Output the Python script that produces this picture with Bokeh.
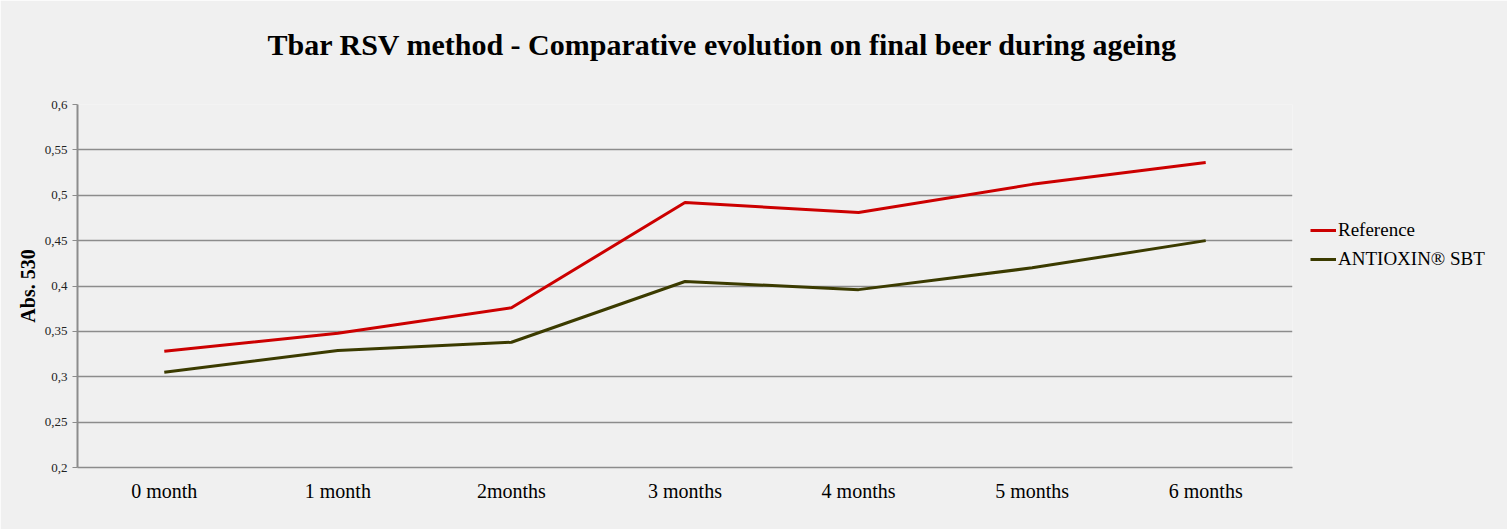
from bokeh.plotting import figure
from bokeh.models import FixedTicker, Legend, LegendItem, ColumnDataSource, Title
from bokeh.embed import file_html
from bokeh.resources import INLINE

categories = ["0 month", "1 month", "2months", "3 months", "4 months", "5 months", "6 months"]
reference = [0.328, 0.348, 0.376, 0.492, 0.481, 0.512, 0.536]
antioxin = [0.305, 0.329, 0.338, 0.405, 0.396, 0.420, 0.450]
y_ticks = [0.2, 0.25, 0.3, 0.35, 0.4, 0.45, 0.5, 0.55, 0.6]
y_tick_labels = ["0,2", "0,25", "0,3", "0,35", "0,4", "0,45", "0,5", "0,55", "0,6"]
series_names = ["Reference", "ANTIOXIN\u00ae SBT"]
title_text = "Tbar RSV method - Comparative evolution on final beer during ageing"

BG = "#f0f0f0"
FONT = "Liberation Serif"

p = figure(frame_width=1215, frame_height=363, x_range=categories, y_range=(0.2, 0.6),
           output_backend="svg", toolbar_location=None,
           min_border_left=77, min_border_right=215, min_border_top=104, min_border_bottom=62,
           background_fill_color=BG, border_fill_color=BG, outline_line_color=None)
p.title = None

spacer = Title(text=" ", text_font_size="1px", standoff=16, text_color=BG)
p.add_layout(spacer, "above")
main_title = Title(text=title_text, align="left", offset=190, standoff=50,
                   text_font=FONT, text_font_size="30px", text_font_style="bold",
                   text_color="#000000")
p.add_layout(main_title, "above")

src = ColumnDataSource(dict(x=categories, ref=reference, anti=antioxin))
r1 = p.line("x", "ref", source=src, line_color="#cc0000", line_width=3)
r2 = p.line("x", "anti", source=src, line_color="#3b3b00", line_width=3)

legend = Legend(items=[LegendItem(label=series_names[0], renderers=[r1]),
                       LegendItem(label=series_names[1], renderers=[r2])],
                location=(18, 197), background_fill_alpha=0, border_line_color=None,
                label_text_font=FONT, label_text_font_size="19px", label_text_color="#000000",
                glyph_width=26, glyph_height=18, label_standoff=2, spacing=7, padding=0,
                margin=0)
p.add_layout(legend, "right")

p.yaxis.ticker = FixedTicker(ticks=y_ticks)
p.yaxis.major_label_overrides = {t: l for t, l in zip(y_ticks, y_tick_labels)}
p.yaxis.major_label_text_font = FONT
p.yaxis.major_label_text_font_size = "13px"
p.yaxis.major_label_text_color = "#222222"
p.yaxis.axis_line_color = "#8c8c8c"
p.yaxis.axis_line_width = 2
p.yaxis.major_tick_line_color = "#8c8c8c"
p.yaxis.major_tick_out = 5
p.yaxis.major_tick_in = 0
p.yaxis.minor_tick_line_color = None
p.yaxis.axis_label = "Abs. 530"
p.yaxis.axis_label_text_font = FONT
p.yaxis.axis_label_text_font_size = "20px"
p.yaxis.axis_label_text_font_style = "bold"
p.yaxis.axis_label_text_color = "#000000"
p.yaxis.axis_label_standoff = 3

p.xaxis.axis_line_color = "#8c8c8c"
p.xaxis.axis_line_width = 1.5
p.xaxis.major_tick_line_color = None
p.xaxis.minor_tick_line_color = None
p.xaxis.major_label_text_font = FONT
p.xaxis.major_label_text_font_size = "20px"
p.xaxis.major_label_text_color = "#000000"
p.xaxis.major_label_standoff = 6

p.xgrid.grid_line_color = None
p.ygrid.grid_line_color = "#8c8c8c"
p.ygrid.grid_line_width = 1.5

open("out.html", "w").write(file_html(p, INLINE))
